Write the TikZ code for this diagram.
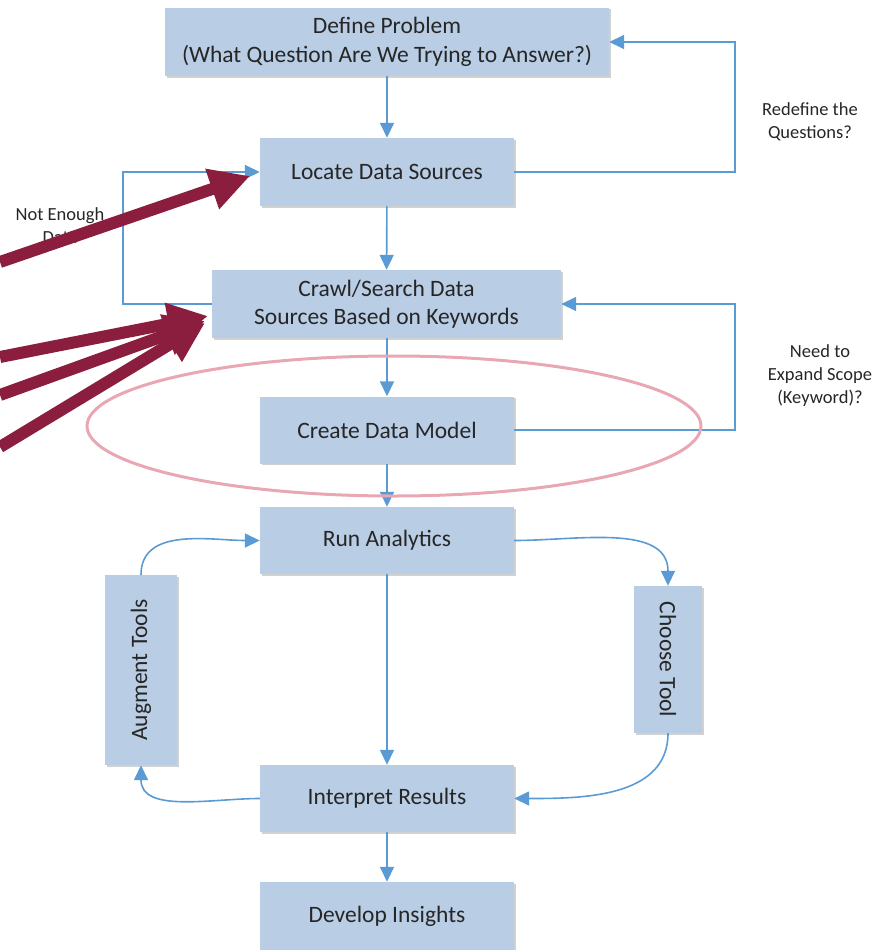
\documentclass[tikz,border=0pt]{standalone}
\usepackage{fontspec}
\setmainfont{Carlito}
\usepackage{graphicx}
\usetikzlibrary{arrows.meta,shadows}

\definecolor{boxblue}{HTML}{B9CDE5}
\definecolor{lineblue}{HTML}{5B9BD5}
\definecolor{hintred}{HTML}{8B1E3F}
\definecolor{ringpink}{HTML}{E8A7B3}
\definecolor{txtgray}{HTML}{262626}

\begin{document}
\begin{tikzpicture}[x=1pt,y=1pt,
	stepbox/.style={fill=boxblue, text=txtgray, inner sep=0pt, align=center,
		font=\fontsize{23.5}{28.5}\selectfont,
		drop shadow={shadow xshift=1.5pt,shadow yshift=-1.5pt,opacity=0.18,fill=black}},
	note/.style={text=txtgray, align=center, font=\fontsize{18.5}{23}\selectfont},
	flow/.style={draw=lineblue, line width=1.6pt, -{Triangle[length=15pt,width=14pt]}},
	hint/.style={draw=hintred, line width=12pt, -{Triangle[length=40pt,width=40pt]}}]
			\useasboundingbox (0,0) rectangle (886,-950);
			% main column
			\node [stepbox, minimum width=444pt, minimum height=68pt] (define) at (387,-42) {Define Problem\\(What Question Are We Trying to Answer?)};
			\node [stepbox, minimum width=254pt, minimum height=68pt] (locate) at (387,-172) {Locate Data Sources};
			\node [stepbox, minimum width=349pt, minimum height=68pt] (crawl) at (386.5,-304) {Crawl/Search Data\\Sources Based on Keywords};
			\node [stepbox, minimum width=254pt, minimum height=67pt] (model) at (387,-430) {Create Data Model};
			\node [stepbox, minimum width=254pt, minimum height=67pt] (run) at (387,-540.5) {Run Analytics};
			\node [stepbox, minimum width=254pt, minimum height=67pt] (interp) at (387,-798.5) {Interpret Results};
			\node [stepbox, minimum width=254pt, minimum height=68pt] (insight) at (387,-916) {Develop Insights};
			% side boxes
			\node [stepbox, minimum width=72pt, minimum height=190pt] (augment) at (141,-670) {\rotatebox{90}{Augment Tools}};
			\node [stepbox, minimum width=68pt, minimum height=147pt] (choose) at (668,-659.5) {\rotatebox{-90}{Choose Tool}};
			% loop labels
			\node [note] (redef) at (810,-122) {Redefine the\\Questions?};
			\node [note] (scope) at (820,-376) {Need to\\Expand Scope\\(Keyword)?};
			\node [note] (notenough) at (60,-226) {Not Enough\\Data};
			% down the column
			\draw [flow] (define) -- (locate);
			\draw [flow] (locate) -- (crawl);
			\draw [flow] (crawl.south -| model) -- (model);
			\draw [flow] (model) -- (run);
			\draw [flow] (run) -- (interp);
			\draw [flow] (interp) -- (insight);
			% feedback loops
			\coordinate (rightrail) at (735,0);
			\coordinate (leftrail) at (123,0);
			\draw [flow] (locate.east) -- (locate.east -| rightrail) |- (define.east);
			\draw [flow] (model.east) -- (model.east -| rightrail) |- (crawl.east);
			\draw [flow] (crawl.west) -- (crawl.west -| leftrail) |- (locate.west);
			% analytics cycle
			\draw [flow] (run.east) to [out=0,in=90] (choose.north);
			\draw [flow] (choose.south) to [out=-90,in=0] (interp.east);
			\draw [flow] (interp.west) to [out=180,in=-90] (augment.south);
			\draw [flow] (augment.north) to [out=90,in=180] (run.west);
			% highlight ring
			\draw [ringpink, line width=3pt] (394,-426) ellipse [x radius=307, y radius=70];
			% pointers from the left
			\coordinate (h1) at (0,-262);
			\coordinate (t1) at (250,-176);
			\coordinate (h2) at (0,-357);
			\coordinate (t2) at (208,-316);
			\coordinate (h3) at (0,-395);
			\coordinate (t3) at (205,-321);
			\coordinate (h4) at (0,-447);
			\coordinate (t4) at (205,-323);
			\draw [hint] (h1) -- (t1);
			\draw [hint] (h2) -- (t2);
			\draw [hint] (h3) -- (t3);
			\draw [hint] (h4) -- (t4);
\end{tikzpicture}
\end{document}
